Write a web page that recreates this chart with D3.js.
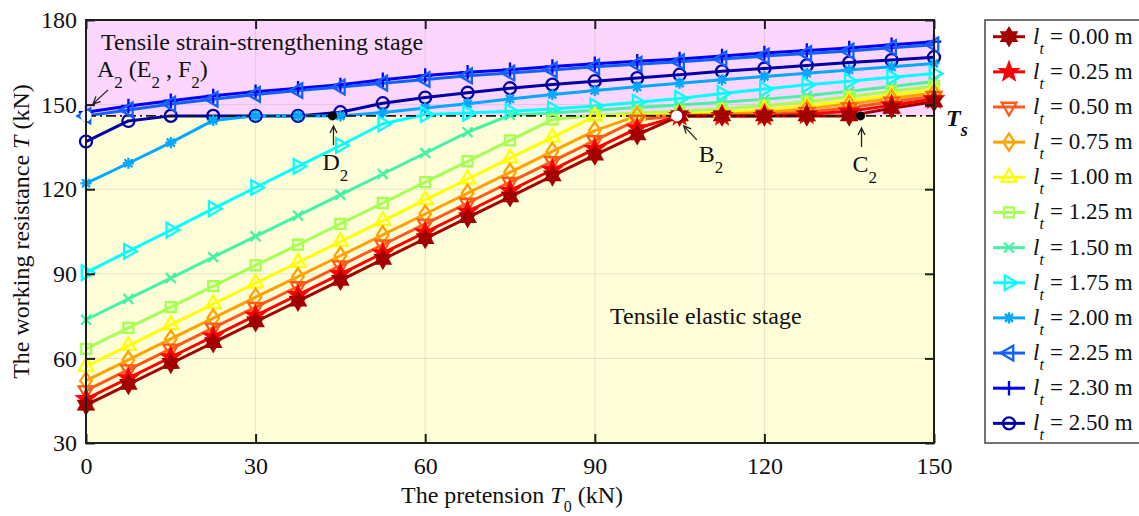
<!DOCTYPE html>
<html>
<head>
<meta charset="utf-8">
<script src="https://cdn.jsdelivr.net/npm/d3@7"></script>
<style>
  body { margin: 0; background: #fff; }
  svg { display: block; font-family: "Liberation Serif", "Times New Roman", serif; }
</style>
</head>
<body>
<svg id="chart" width="1139" height="516"></svg>
<script>
// pretension values on the x axis (kN)
const T0 = [0, 7.5, 15, 22.5, 30, 37.5, 45, 52.5, 60, 67.5, 75, 82.5, 90, 97.5, 105, 112.5, 120, 127.5, 135, 142.5, 150];

// anchoring length of each curve (m)
const lengths = ["0.00", "0.25", "0.50", "0.75", "1.00", "1.25", "1.50", "1.75", "2.00", "2.25", "2.30", "2.50"];

// working resistance T (kN), one array per curve
const T_l000 = [43.4, 50.8, 58.2, 65.6, 73.0, 80.3, 87.7, 95.1, 102.5, 109.9, 117.3, 124.7, 132.1, 139.3, 146.0, 146.0, 146.0, 146.0, 146.0, 148.7, 151.0];
const T_l025 = [45.6, 53.0, 60.4, 67.8, 75.2, 82.5, 89.9, 97.3, 104.7, 112.1, 119.5, 126.9, 134.3, 141.6, 146.0, 146.0, 146.0, 146.6, 147.6, 149.8, 152.0];
const T_l050 = [48.6, 56.0, 63.4, 70.8, 78.2, 85.5, 92.9, 100.3, 107.7, 115.1, 122.5, 129.9, 137.3, 144.6, 146.0, 146.1, 146.4, 147.3, 148.9, 151.0, 153.0];
const T_l075 = [52.1, 59.5, 66.9, 74.3, 81.7, 89.0, 96.4, 103.8, 111.2, 118.6, 126.0, 133.4, 140.8, 146.0, 146.2, 146.6, 147.2, 148.4, 150.2, 152.2, 154.1];
const T_l100 = [57.1, 64.5, 71.9, 79.3, 86.7, 94.0, 101.4, 108.8, 116.2, 123.6, 131.0, 138.4, 145.8, 146.3, 146.7, 147.3, 148.2, 149.6, 151.4, 153.4, 155.3];
const T_l125 = [63.4, 70.8, 78.2, 85.6, 93.0, 100.3, 107.7, 115.1, 122.5, 129.9, 137.3, 144.7, 146.2, 146.9, 147.6, 148.5, 149.6, 151.0, 152.8, 154.7, 156.6];
const T_l150 = [73.7, 81.1, 88.5, 95.9, 103.3, 110.6, 118.0, 125.4, 132.8, 140.2, 146.3, 147.0, 148.0, 149.0, 149.9, 150.8, 151.9, 153.1, 154.7, 156.4, 158.2];
const T_l175 = [90.4, 98.0, 105.5, 113.1, 120.6, 128.1, 135.5, 143.2, 146.5, 147.0, 147.6, 148.4, 149.5, 150.8, 152.2, 153.9, 155.5, 157.0, 158.3, 159.7, 161.0];
const T_l200 = [122.1, 129.2, 136.5, 144.4, 146.0, 146.0, 146.0, 147.2, 148.8, 150.3, 152.0, 153.6, 155.0, 156.3, 157.6, 158.8, 160.0, 161.1, 162.3, 163.4, 164.6];
const T_l225 = [146.0, 148.1, 150.2, 151.9, 153.6, 155.0, 156.2, 157.6, 158.9, 160.2, 161.2, 162.3, 163.4, 164.3, 165.2, 166.2, 167.2, 168.1, 169.0, 170.2, 171.2];
const T_l230 = [147.3, 149.5, 151.4, 153.1, 154.6, 155.8, 157.0, 158.8, 160.3, 161.5, 162.4, 163.5, 164.5, 165.4, 166.2, 167.2, 168.3, 169.2, 170.1, 171.2, 172.3];
const T_l250 = [136.9, 144.2, 146.0, 146.0, 146.0, 146.0, 147.3, 150.5, 152.5, 154.2, 155.8, 157.1, 158.3, 159.4, 160.6, 161.8, 162.8, 163.9, 164.9, 165.8, 166.8];

const seriesValues = [T_l000, T_l025, T_l050, T_l075, T_l100, T_l125, T_l150, T_l175, T_l200, T_l225, T_l230, T_l250];

// yield resistance Ts and the marked points on it
const Ts = 146.0;
const keyNames = ["A", "D", "B", "C"];
const keyT0 = [0, 43.6, 104.5, 137.0];

const xTicks = [0, 30, 60, 90, 120, 150];
const yTicks = [30, 60, 90, 120, 150, 180];

// styles (MATLAB jet-like)
const colors = ["#a30000", "#ff0000", "#ff5a1c", "#ffa200", "#ffff00", "#a6ff52", "#46f2a4",
                "#00ffff", "#00a8ff", "#1460ff", "#0000ff", "#0000a6"];
const markers = ["hexagram", "pentagram", "v", "d", "^", "s", "x", ">", "*", "<", "+", "o"];

const svg = d3.select("#chart");
const margin = { left: 86, right: 205, top: 20, bottom: 73 };
const W = 1139, H = 516;

const x = d3.scaleLinear().domain([0, 150]).range([margin.left, W - margin.right]);
const y = d3.scaleLinear().domain([30, 180]).range([H - margin.bottom, margin.top]);

// marker shapes centred on 0,0
function markerPath(type, r) {
  const poly = pts => "M" + pts.map(p => p[0].toFixed(2) + "," + p[1].toFixed(2)).join("L") + "Z";
  const star = (n, inner) => {
    const pts = [];
    for (let i = 0; i < 2 * n; i++) {
      const a = -Math.PI / 2 + i * Math.PI / n;
      const rr = i % 2 ? r * inner : r;
      pts.push([rr * Math.cos(a), rr * Math.sin(a)]);
    }
    return poly(pts);
  };
  const c = 0.866 * r, h = 0.5 * r;
  switch (type) {
    case "hexagram": return star(6, 0.58);
    case "pentagram": return star(5, 0.42);
    case "^": return poly([[0, -r], [c, h], [-c, h]]);
    case "v": return poly([[0, r], [c, -h], [-c, -h]]);
    case ">": return poly([[r, 0], [-h, c], [-h, -c]]);
    case "<": return poly([[-r, 0], [h, c], [h, -c]]);
    case "d": return poly([[0, -r], [0.68 * r, 0], [0, r], [-0.68 * r, 0]]);
    case "s": { const s = 0.62 * r; return poly([[-s, -s], [s, -s], [s, s], [-s, s]]); }
    case "x": { const s = 0.55 * r; return `M${-s},${-s}L${s},${s}M${-s},${s}L${s},${-s}`; }
    case "+": { const s = 0.85 * r; return `M${-s},0L${s},0M0,${-s}L0,${s}`; }
    case "*": { const s = 0.7 * r, d = 0.5 * r; return `M${-s},0L${s},0M0,${-s}L0,${s}M${-d},${-d}L${d},${d}M${-d},${d}L${d},${-d}`; }
    case "o": return `M${r},0A${r},${r} 0 1 1 ${-r},0A${r},${r} 0 1 1 ${r},0Z`;
  }
}
const markerSize = { hexagram: 8.5, pentagram: 9, "^": 8.5, v: 8.5, ">": 8.5, "<": 8.5, d: 8.5, s: 8, x: 9, "+": 8.5, "*": 8, o: 6 };
const filled = t => t === "hexagram" || t === "pentagram";

// background stages
svg.append("rect")
  .attr("x", x(0)).attr("y", y(180))
  .attr("width", x(150) - x(0)).attr("height", y(Ts) - y(180))
  .attr("fill", "#fcd6fc");
svg.append("rect")
  .attr("x", x(0)).attr("y", y(Ts))
  .attr("width", x(150) - x(0)).attr("height", y(30) - y(Ts))
  .attr("fill", "#fefed9");

// grid
const grid = svg.append("g").attr("stroke", "#8a8a70").attr("stroke-opacity", 0.22).attr("stroke-width", 1);
xTicks.slice(1, -1).forEach(v => grid.append("line")
  .attr("x1", x(v)).attr("x2", x(v)).attr("y1", y(30)).attr("y2", y(180)));
yTicks.slice(1, -1).forEach(v => grid.append("line")
  .attr("x1", x(0)).attr("x2", x(150)).attr("y1", y(v)).attr("y2", y(v)));

// series lines (drawn last-to-first so the short lengths sit on top)
const order = d3.range(seriesValues.length).reverse();
const line = d3.line().x((d, i) => x(T0[i])).y(d => y(d));
const linesG = svg.append("g");
order.forEach(k => {
  linesG.append("path")
    .attr("d", line(seriesValues[k]))
    .attr("fill", "none")
    .attr("stroke", colors[k])
    .attr("stroke-width", 3)
    .attr("stroke-linejoin", "round");
});

// Ts dash-dot line
svg.append("line")
  .attr("x1", x(0)).attr("x2", x(150)).attr("y1", y(Ts)).attr("y2", y(Ts))
  .attr("stroke", "#1a1a1a").attr("stroke-width", 1.6)
  .attr("stroke-dasharray", "10,4,2,4");

// markers
const marksG = svg.append("g");
order.forEach(k => {
  const t = markers[k];
  marksG.append("g").selectAll("path")
    .data(seriesValues[k])
    .enter().append("path")
    .attr("transform", (d, i) => `translate(${x(T0[i])},${y(d)})`)
    .attr("d", markerPath(t, markerSize[t]))
    .attr("fill", filled(t) ? colors[k] : "none")
    .attr("stroke", colors[k])
    .attr("stroke-width", t === "s" ? 2.4 : 2.3)
    .attr("stroke-linejoin", "miter");
});

// key points on Ts
keyNames.forEach((n, i) => {
  svg.append("circle")
    .attr("cx", x(keyT0[i])).attr("cy", y(Ts))
    .attr("r", (n === "A" || n === "B") ? 5.5 : 4.5)
    .attr("fill", (n === "A" || n === "B") ? "#fff" : "#000");
});

// frame and ticks
const frameColor = "#1e1e1e";
const axG = svg.append("g");
const axBottom = axG.append("g").attr("transform", `translate(0,${y(30)})`)
  .call(d3.axisBottom(x).tickValues(xTicks).tickSize(-9).tickPadding(14));
const axLeft = axG.append("g").attr("transform", `translate(${x(0)},0)`)
  .call(d3.axisLeft(y).tickValues(yTicks).tickSize(-9).tickPadding(9));
const axTop = axG.append("g").attr("transform", `translate(0,${y(180)})`)
  .call(d3.axisTop(x).tickValues(xTicks).tickSize(-9).tickFormat(""));
const axRight = axG.append("g").attr("transform", `translate(${x(150)},0)`)
  .call(d3.axisRight(y).tickValues(yTicks).tickSize(-9).tickFormat(""));
[axBottom, axLeft, axTop, axRight].forEach(g => {
  g.attr("font-size", 24).attr("font-family", "Liberation Serif, Times New Roman, serif");
  g.select(".domain").remove();
  g.selectAll(".tick line").attr("stroke", frameColor).attr("stroke-width", 2);
  g.selectAll(".tick text").attr("fill", "#111");
});
svg.append("rect")
  .attr("x", x(0)).attr("y", y(180))
  .attr("width", x(150) - x(0)).attr("height", y(30) - y(180))
  .attr("fill", "none").attr("stroke", frameColor).attr("stroke-width", 2);

// axis titles
const xt = svg.append("text")
  .attr("x", (x(0) + x(150)) / 2 + 2).attr("y", 503)
  .attr("text-anchor", "middle").attr("font-size", 24).attr("fill", "#111");
xt.append("tspan").text("The pretension ");
xt.append("tspan").attr("font-style", "italic").text("T");
xt.append("tspan").attr("font-size", 16).attr("dy", 9).text("0");
xt.append("tspan").attr("dy", -9).text(" (kN)");

const yt = svg.append("text")
  .attr("transform", `translate(29,${(y(30) + y(180)) / 2}) rotate(-90)`)
  .attr("text-anchor", "middle").attr("font-size", 24).attr("fill", "#111");
yt.append("tspan").text("The working resistance ");
yt.append("tspan").attr("font-style", "italic").text("T");
yt.append("tspan").text(" (kN)");

// stage labels
svg.append("text").attr("x", 101).attr("y", 50).attr("font-size", 24).attr("fill", "#111")
  .text("Tensile strain-strengthening stage");
svg.append("text").attr("x", 610).attr("y", 324).attr("font-size", 24).attr("fill", "#111")
  .text("Tensile elastic stage");

// Ts label
const tsl = svg.append("text").attr("x", x(150) + 12).attr("y", y(Ts) + 10)
  .attr("font-size", 24).attr("font-weight", "bold").attr("font-style", "italic").attr("fill", "#111");
tsl.append("tspan").text("T");
tsl.append("tspan").attr("font-size", 18).attr("dy", 10).text("s");

// subscripted labels
function subLabel(x0, y0, parts) {
  const t = svg.append("text").attr("x", x0).attr("y", y0).attr("font-size", 24).attr("fill", "#111");
  parts.forEach(p => {
    if (p.sub) t.append("tspan").attr("font-size", 17).attr("dy", 11).text(p.sub);
    else t.append("tspan").attr("dy", p.back ? -11 : 0).text(p.txt);
  });
}
subLabel(97, 77, [{ txt: "A" }, { sub: "2" }, { txt: " (E", back: true }, { sub: "2" }, { txt: " , F", back: true }, { sub: "2" }, { txt: ")", back: true }]);
subLabel(x(keyT0[1]) - 10, 170, [{ txt: "D" }, { sub: "2" }]);
subLabel(x(keyT0[2]) + 22, 162, [{ txt: "B" }, { sub: "2" }]);
subLabel(x(keyT0[3]) - 8, 172, [{ txt: "C" }, { sub: "2" }]);

// arrows
function arrow(x1, y1, x2, y2) {
  const a = Math.atan2(y2 - y1, x2 - x1), L = 8, s = 0.45;
  const p = `M${x1},${y1}L${x2},${y2}` +
    `M${x2 - L * Math.cos(a - s)},${y2 - L * Math.sin(a - s)}L${x2},${y2}` +
    `L${x2 - L * Math.cos(a + s)},${y2 - L * Math.sin(a + s)}`;
  svg.append("path").attr("d", p).attr("fill", "none").attr("stroke", "#222").attr("stroke-width", 1.3);
}
const yTs = y(Ts);
arrow(x(keyT0[0]) + 22, yTs - 26, x(keyT0[0]) + 7, yTs - 12);
arrow(x(keyT0[1]) + 1, yTs + 29, x(keyT0[1]) + 1, yTs + 10);
arrow(x(keyT0[2]) + 20, yTs + 24, x(keyT0[2]) + 7, yTs + 10);
arrow(x(keyT0[3]) + 1, yTs + 31, x(keyT0[3]) + 1, yTs + 12);

// legend
const lg = svg.append("g");
lg.append("rect").attr("x", 985).attr("y", 20).attr("width", 170).attr("height", 423)
  .attr("fill", "#fff").attr("stroke", "#444").attr("stroke-width", 1.5);
lengths.forEach((l, k) => {
  const cy = 36.7 + k * 35.15;
  const t = markers[k];
  lg.append("line").attr("x1", 993).attr("x2", 1025).attr("y1", cy).attr("y2", cy)
    .attr("stroke", colors[k]).attr("stroke-width", 3);
  lg.append("path").attr("transform", `translate(1009,${cy})`)
    .attr("d", markerPath(t, markerSize[t]))
    .attr("fill", filled(t) ? colors[k] : "none")
    .attr("stroke", colors[k]).attr("stroke-width", 2.3);
  const tx = lg.append("text").attr("x", 1033).attr("y", cy + 7).attr("font-size", 23).attr("fill", "#111");
  tx.append("tspan").attr("font-style", "italic").text("l");
  tx.append("tspan").attr("font-style", "italic").attr("font-size", 16).attr("dy", 10).text("t");
  tx.append("tspan").attr("x", 1050).attr("dy", -10).text(`= ${l} m`);
});
</script>
</body>
</html>
